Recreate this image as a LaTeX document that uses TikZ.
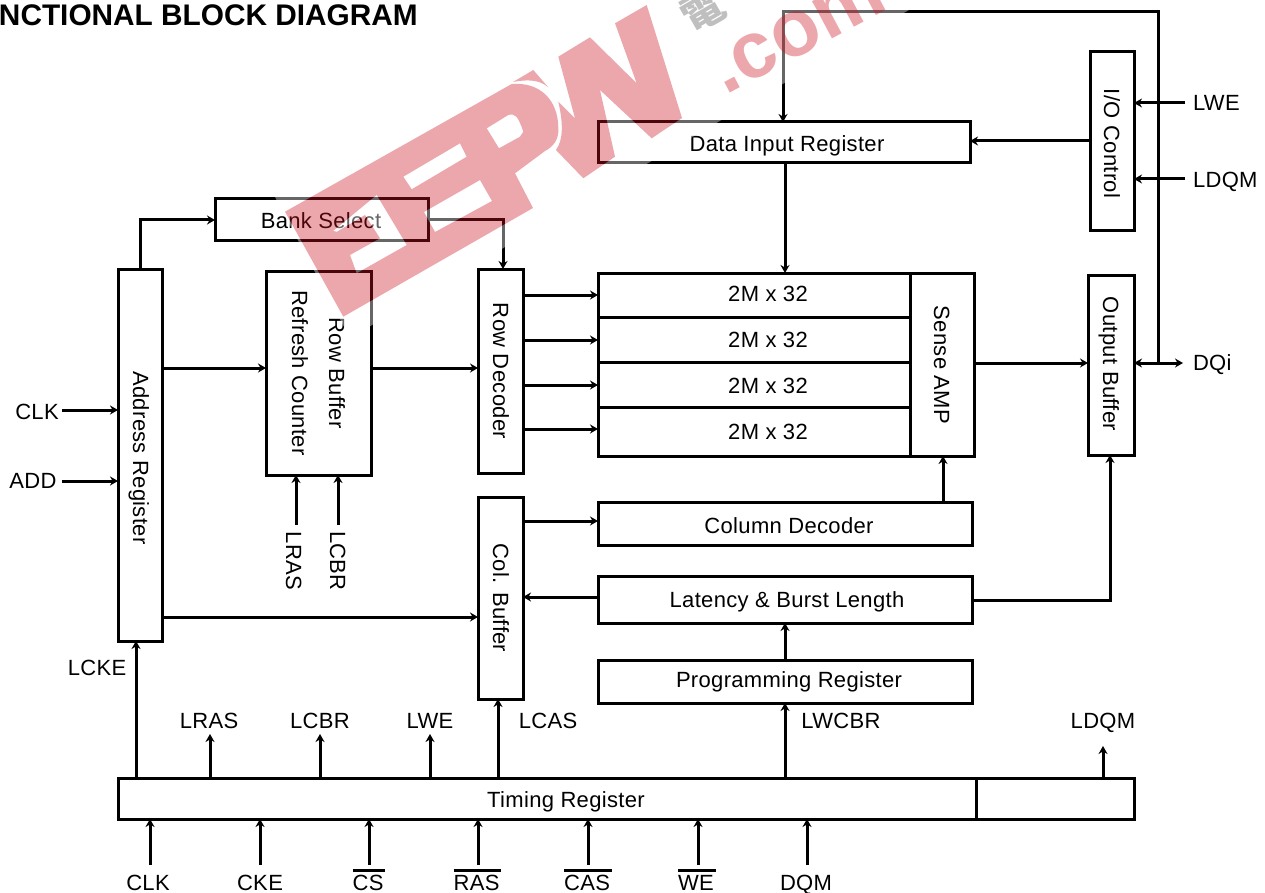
\documentclass[tikz,border=0pt]{standalone}
\usepackage{fontspec}
\setmainfont[LetterSpace=1.5]{Liberation Sans}
\newfontfamily\cjkwm{Noto Sans CJK TC}
\usetikzlibrary{arrows.meta}
\definecolor{wmred}{RGB}{201,17,28}
\newcommand{\ovl}[1]{\leavevmode\vbox{\hrule height 2.4pt \kern 3.6pt \hbox{#1\kern2pt}}}
\newcommand{\blockbox}[5]{%
  \pgfmathsetmacro{\bcx}{(#2+#4)/2}\pgfmathsetmacro{\bcy}{(#3+#5)/2}%
  \pgfmathsetmacro{\bw}{#4-#2}\pgfmathsetmacro{\bh}{#5-#3}%
  \node[blockn,minimum width=\bw pt,minimum height=\bh pt] (#1) at (\bcx,\bcy) {};}
\newcommand{\logopath}{%
 (285,211.7) -- (511.7,84) .. controls (540,81.7) and (558.3,100) .. (558.3,128.3)
 .. controls (559,140) and (553,146.7) .. (545,151) -- (515,173.3) -- (533,208) -- (343.3,316.7) -- cycle
 (333,231) -- (376.7,195) -- (406.7,245) -- (356.7,273.3) -- (350,255) -- (380,238.3) -- (365,215) -- (337,231.7) -- cycle
 (403.3,176.7) -- (460,143.3) -- (466.7,156.7) -- (411.7,189.3) -- cycle
 (424,212) -- (480,180) -- (492,201) -- (435,232) -- cycle
 (486.7,128.3) -- (508.3,115) .. controls (515,113) and (518,116) .. (523.3,131.7) -- (520,136.7) -- (499,148.3) -- cycle
 (513,82) -- (533.3,70) -- (548.3,87.3) .. controls (540,80) and (528,79) .. (513,82) -- cycle
 (558.3,56.7) -- (590,37.3) -- (636.7,83.3) -- (615,23.3) -- (646.7,5) -- (682,118) -- (651.7,138.3) -- (600,90) -- (615,156.7) -- (583.3,178.3) -- (556,150)
 .. controls (563.3,140) and (563.3,123.3) .. (558.3,101.7) -- (575,118.3) -- cycle}
\tikzset{
  blockn/.style={draw=black,line width=3pt,fill=none,inner sep=0pt,outer sep=0pt},
  lab/.style={inner sep=0pt,outer sep=0pt,text height=15.8pt,text depth=0pt,font=\fontsize{22}{26}\selectfont},
  wire/.style={draw=black,line width=3pt},
  arr/.style={wire,-{Stealth[length=8pt,width=9pt]}},
  arrb/.style={wire,{Stealth[length=8pt,width=9pt]}-{Stealth[length=8pt,width=9pt]}}
}
\begin{document}
\begin{tikzpicture}[x=1pt,y=-1pt]
\useasboundingbox (0,0) rectangle (1265,893);
\fill[white] (0,0) rectangle (1265,893);
\begin{scope}
\clip (0,0) rectangle (1265,893);
\node[inner sep=0pt,anchor=east,font=\addfontfeatures{LetterSpace=0}\bfseries\fontsize{29.8}{32}\selectfont] (title) at (418,15) {NCTIONAL BLOCK DIAGRAM};

% blocks
\blockbox{bank}{215}{199}{428}{241}
\node[lab] (bankt) at (321,221) {Bank Select};
\blockbox{addr}{118}{269}{162}{641}
\node[lab,rotate=-90] (addrt) at (141,458) {Address Register};
\blockbox{refr}{266}{271}{371}{475}
\node[lab,rotate=-90] (refrA) at (337,373) {Row Buffer};
\node[lab,rotate=-90] (refrB) at (300,373) {Refresh Counter};
\blockbox{rowd}{478}{269}{523}{473}
\node[lab,rotate=-90] (rowdt) at (501,371) {Row Decoder};
\blockbox{colb}{478}{497}{523}{699}
\node[lab,rotate=-90] (colbt) at (501,598) {Col. Buffer};
\blockbox{dinr}{598}{122}{970}{163}
\node[lab] (dinrt) at (787,143.5) {Data Input Register};
\blockbox{ioct}{1090}{52}{1134}{231}
\node[lab,rotate=-90] (ioctt) at (1112,143.5) {I/O Control};
\blockbox{arra}{598}{273}{910}{317}
\node[lab] (arrat) at (768,294) {2M x 32};
\blockbox{arrb}{598}{317}{910}{362}
\node[lab] (arrbt) at (768,340) {2M x 32};
\blockbox{arrc}{598}{362}{910}{407}
\node[lab] (arrct) at (768,386) {2M x 32};
\blockbox{arrd}{598}{407}{910}{456}
\node[lab] (arrdt) at (768,432) {2M x 32};
\blockbox{sense}{910}{273}{974}{456}
\node[lab,rotate=-90] (senset) at (942,365) {Sense AMP};
\blockbox{outb}{1088}{275}{1134}{455}
\node[lab,rotate=-90] (outbt) at (1111,364) {Output Buffer};
\blockbox{cold}{598}{502}{972}{545}
\node[lab] (coldt) at (789,526) {Column Decoder};
\blockbox{latn}{598}{576}{972}{623}
\node[lab] (latnt) at (787,600) {Latency \& Burst Length};
\blockbox{prog}{598}{660}{972}{703}
\node[lab] (progt) at (789,680) {Programming Register};
\blockbox{timg}{118}{778}{976}{819}
\node[lab] (timgt) at (566,799.5) {Timing Register};
\blockbox{timx}{976}{778}{1134}{819}

% labels
\node[lab] (lclk) at (37,412) {CLK};
\node[lab] (ladd) at (33,481) {ADD};
\node[lab] (lcke) at (97,668) {LCKE};
\node[lab] (ulras) at (209,721) {LRAS};
\node[lab] (ulcbr) at (320,721) {LCBR};
\node[lab] (ulwe) at (430,721) {LWE};
\node[lab] (ulcas) at (548,721) {LCAS};
\node[lab] (ulwcbr) at (841,721) {LWCBR};
\node[lab] (uldqm) at (1103,721) {LDQM};
\node[lab,anchor=west] (rlwe) at (1193,103) {LWE};
\node[lab,anchor=west] (rldqm) at (1193,179.5) {LDQM};
\node[lab,anchor=west] (rdqi) at (1193,363) {DQi};
\node[lab,rotate=-90] (vlras) at (294,561) {LRAS};
\node[lab,rotate=-90] (vlcbr) at (338,561) {LCBR};
\node[lab] (bclk) at (148,882.5) {CLK};
\node[lab] (bcke) at (260,882.5) {CKE};
\node[inner sep=0pt,font=\fontsize{22}{26}\selectfont,anchor=base] (bcs) at (369,890.5) {\ovl{CS}};
\node[inner sep=0pt,font=\fontsize{22}{26}\selectfont,anchor=base] (bras) at (477.5,890.5) {\ovl{RAS}};
\node[inner sep=0pt,font=\fontsize{22}{26}\selectfont,anchor=base] (bcas) at (588,890.5) {\ovl{CAS}};
\node[inner sep=0pt,font=\fontsize{22}{26}\selectfont,anchor=base] (bwe) at (697,890.5) {\ovl{WE}};
\node[lab] (bdqm) at (806,882.5) {DQM};

% free ends
\coordinate (fclk) at (62,410);
\coordinate (fadd) at (62,481);
\coordinate (flwe) at (1185,103);
\coordinate (fldqm) at (1185,179);
\coordinate (fdqi) at (1183,363);
\coordinate (fdqj) at (1158,363);
\coordinate (tras) at (210,734);
\coordinate (tcbr) at (320,734);
\coordinate (twe) at (430,734);
\coordinate (tdqm) at (1103,746);
\coordinate (ilras) at (296,525);
\coordinate (ilcbr) at (338,525);
\coordinate (sclk) at (150,865);
\coordinate (scke) at (260,865);
\coordinate (scs) at (369,865);
\coordinate (sras) at (478,865);
\coordinate (scas) at (588,865);
\coordinate (swe) at (698,865);
\coordinate (sdqm) at (807,865);

% connectors
\draw[arr] (addr.north -| 140,0) -- (140,220) -- (bank.west |- 0,220);
\draw[arr] (bank.east |- 0,220) -- (503,220) -- (rowd.north -| 503,0);
\draw[arr] (addr.east |- 0,368) -- (refr.west |- 0,368);
\draw[arr] (refr.east |- 0,368) -- (rowd.west |- 0,368);
\draw[arr] (addr.east |- 0,617) -- (colb.west |- 0,617);
\draw[arr] (rowd.east |- 0,295) -- (arra.west |- 0,295);
\draw[arr] (rowd.east |- 0,340) -- (arrb.west |- 0,340);
\draw[arr] (rowd.east |- 0,385) -- (arrc.west |- 0,385);
\draw[arr] (rowd.east |- 0,429) -- (arrd.west |- 0,429);
\draw[arr] (colb.east |- 0,521) -- (cold.west |- 0,521);
\draw[arr] (latn.west |- 0,597) -- (colb.east |- 0,597);
\draw[arr] (dinr.south -| 785,0) -- (arra.north -| 785,0);
\draw[arr] (fdqj) -- (1158,12) -- (783,12) -- (dinr.north -| 783,0);
\draw[arr] (ioct.west |- 0,141) -- (dinr.east |- 0,141);
\draw[arr] (flwe) -- (ioct.east |- flwe);
\draw[arr] (fldqm) -- (ioct.east |- fldqm);
\draw[arr] (sense.east |- 0,363) -- (outb.west |- 0,363);
\draw[arrb] (outb.east |- fdqi) -- (fdqi);
\draw[arr] (cold.north -| 943,0) -- (sense.south -| 943,0);
\draw[arr] (latn.east |- 0,600) -- (1110,600) -- (outb.south -| 1110,0);
\draw[arr] (prog.north -| 785,0) -- (latn.south -| 785,0);
\draw[arr] (timg.north -| 785,0) -- (prog.south -| 785,0);
\draw[arr] (timg.north -| 136,0) -- (addr.south -| 136,0);
\draw[arr] (timg.north -| tras) -- (tras);
\draw[arr] (timg.north -| tcbr) -- (tcbr);
\draw[arr] (timg.north -| twe) -- (twe);
\draw[arr] (timg.north -| 498,0) -- (colb.south -| 498,0);
\draw[arr] (timx.north -| tdqm) -- (tdqm);
\draw[arr] (sclk) -- (timg.south -| sclk);
\draw[arr] (scke) -- (timg.south -| scke);
\draw[arr] (scs) -- (timg.south -| scs);
\draw[arr] (sras) -- (timg.south -| sras);
\draw[arr] (scas) -- (timg.south -| scas);
\draw[arr] (swe) -- (timg.south -| swe);
\draw[arr] (sdqm) -- (timg.south -| sdqm);
\draw[arr] (fclk) -- (addr.west |- fclk);
\draw[arr] (fadd) -- (addr.west |- fadd);
\draw[arr] (ilras) -- (refr.south -| ilras);
\draw[arr] (ilcbr) -- (refr.south -| ilcbr);

% watermark
\path[fill=white,opacity=.4,even odd rule] (250,150) -- (760,-150) -- (960,-20) -- (350,338) -- cycle \logopath;
\path[fill=wmred,opacity=.37,even odd rule] \logopath;
\node[rotate=28,opacity=.37,text=wmred,inner sep=0pt,anchor=base west,font=\addfontfeatures{LetterSpace=0}\bfseries\fontsize{80}{84}\selectfont] (wmcom) at (725,96) {.com};
\node[rotate=30,opacity=.25,text=black,inner sep=0pt,font=\cjkwm\bfseries\fontsize{42}{46}\selectfont] (wmcjk) at (703,11) {電};
\end{scope}
\end{tikzpicture}
\end{document}
